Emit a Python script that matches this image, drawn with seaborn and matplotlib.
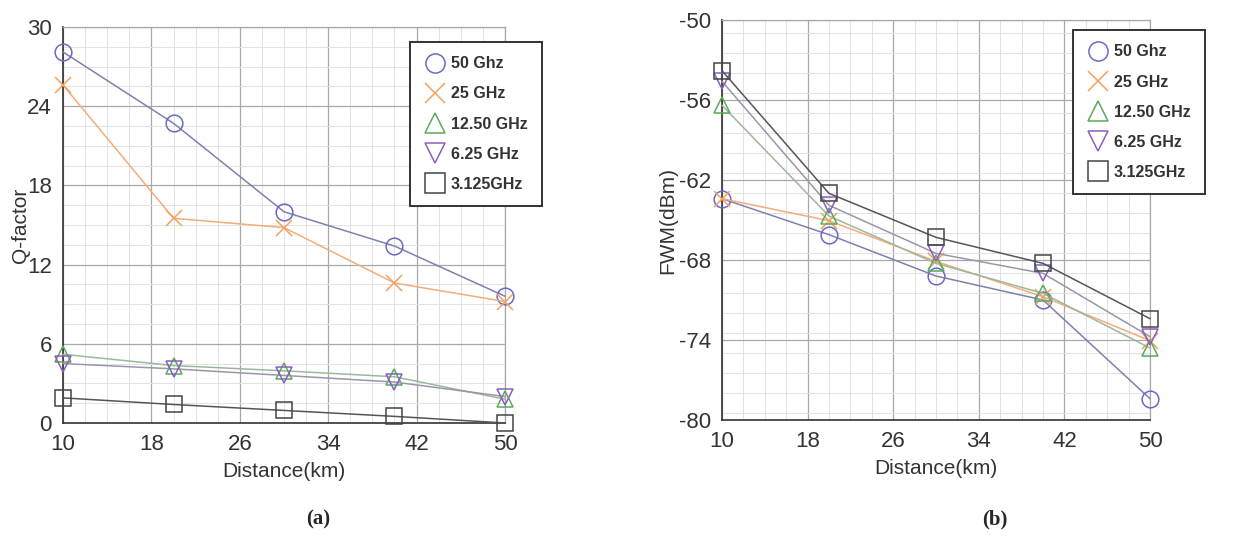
import numpy as np
import pandas as pd
import matplotlib.pyplot as plt
from matplotlib.ticker import MultipleLocator
import seaborn as sns

# Données
distance = [10, 20, 30, 40, 50]
labels = ['50 Ghz', '25 GHz', '12.50 GHz', '6.25 GHz', '3.125GHz']

q_50 = [28.1, 22.7, 16.0, 13.4, 9.6]
q_25 = [25.6, 15.5, 14.8, 10.6, 9.2]
q_125 = [5.2, 4.35, 3.95, 3.5, 1.8]
q_625 = [4.5, 4.1, 3.6, 3.1, 2.0]
q_3125 = [1.9, 1.4, 0.95, 0.5, 0.0]

fwm_50 = [-63.4, -66.1, -69.2, -71.0, -78.4]
fwm_25 = [-63.4, -65.05, -68.1, -70.75, -74.05]
fwm_125 = [-56.4, -64.7, -68.25, -70.5, -74.6]
fwm_625 = [-54.6, -63.9, -67.5, -69.0, -73.75]
fwm_3125 = [-53.8, -63.0, -66.3, -68.25, -72.4]

marker_colors = ['#6a6ac8', '#f5a060', '#5aaa5a', '#8a5ec0', '#444444']
line_colors = ['#7c82b0', '#f3ad78', '#9cb89c', '#9a96a8', '#555555']
markers = ['o', 'x', '^', 'v', 's']

sns.set_style("white")
plt.rcParams['font.family'] = ['Liberation Sans', 'DejaVu Sans']
plt.rcParams['axes.unicode_minus'] = False


def panneau(ax, series, ylim, yticks, ylabel, leg_box, ylab_x, xlab_y):
    for vals, lbl, mc, lc, mk in zip(series, labels, marker_colors, line_colors, markers):
        df = pd.DataFrame({'d': distance, 'v': vals})
        sns.lineplot(data=df, x='d', y='v', ax=ax, color=lc, lw=1.1,
                     marker=mk, markersize=12, markerfacecolor='none',
                     markeredgecolor=mc, markeredgewidth=1.1, label=lbl,
                     clip_on=False, zorder=3)
    ax.set_xlim(10, 50)
    ax.set_ylim(*ylim)
    ax.set_xticks(np.arange(10, 51, 8))
    ax.set_yticks(yticks)
    ax.xaxis.set_minor_locator(MultipleLocator(2))
    ax.yaxis.set_minor_locator(MultipleLocator(1.5))
    ax.grid(which='major', color='#a8a8a8', lw=0.9)
    ax.grid(which='minor', color='#e2e2e2', lw=0.7)
    ax.set_axisbelow(True)
    for s in ['left', 'bottom']:
        ax.spines[s].set_color('#333333')
        ax.spines[s].set_linewidth(1.2)
    for s in ['top', 'right']:
        ax.spines[s].set_color('#a8a8a8')
        ax.spines[s].set_linewidth(0.9)
    ax.tick_params(which='major', direction='out', length=5, width=1,
                   labelsize=16, colors='#333333', pad=3)
    ax.tick_params(which='minor', direction='in', length=3, width=1, colors='#333333')
    ax.set_xlabel('Distance(km)', fontsize=15, color='#333333')
    ax.set_ylabel(ylabel, fontsize=15, color='#333333')
    ax.yaxis.set_label_coords(ylab_x, 0.5)
    ax.xaxis.set_label_coords(0.5, xlab_y)

    leg = ax.legend(loc='upper left', bbox_to_anchor=leg_box, borderaxespad=0,
                    frameon=True, fancybox=False, edgecolor='#333333',
                    framealpha=1, prop={'weight': 'bold', 'size': 11.5},
                    labelspacing=0.95, handlelength=1.3, handletextpad=0.35,
                    borderpad=0.9, markerscale=1.15)
    leg.get_frame().set_linewidth(1.4)
    for line in leg.get_lines():
        line.set_linestyle('None')
    for t in leg.get_texts():
        t.set_color('#333333')


fig = plt.figure(figsize=(12.53, 5.38), dpi=100)
ax1 = fig.add_axes([0.0503, 0.2138, 0.3527, 0.7362])
ax2 = fig.add_axes([0.5762, 0.2193, 0.3416, 0.7435])

panneau(ax1, [q_50, q_25, q_125, q_625, q_3125], (0, 30), np.arange(0, 31, 6),
        'Q-factor', (0.785, 0.962), -0.075, -0.098)
panneau(ax2, [fwm_50, fwm_25, fwm_125, fwm_625, fwm_3125], (-80, -50),
        np.arange(-80, -49, 6), 'FWM(dBm)', (0.82, 0.975), -0.105, -0.0975)

fig.text(0.254, 0.035, '(a)', ha='center', va='center', fontsize=15,
         fontweight='bold', family=['Liberation Serif', 'DejaVu Serif'])
fig.text(0.794, 0.035, '(b)', ha='center', va='center', fontsize=15,
         fontweight='bold', family=['Liberation Serif', 'DejaVu Serif'])

plt.savefig('out.png', dpi=100)
plt.close()
